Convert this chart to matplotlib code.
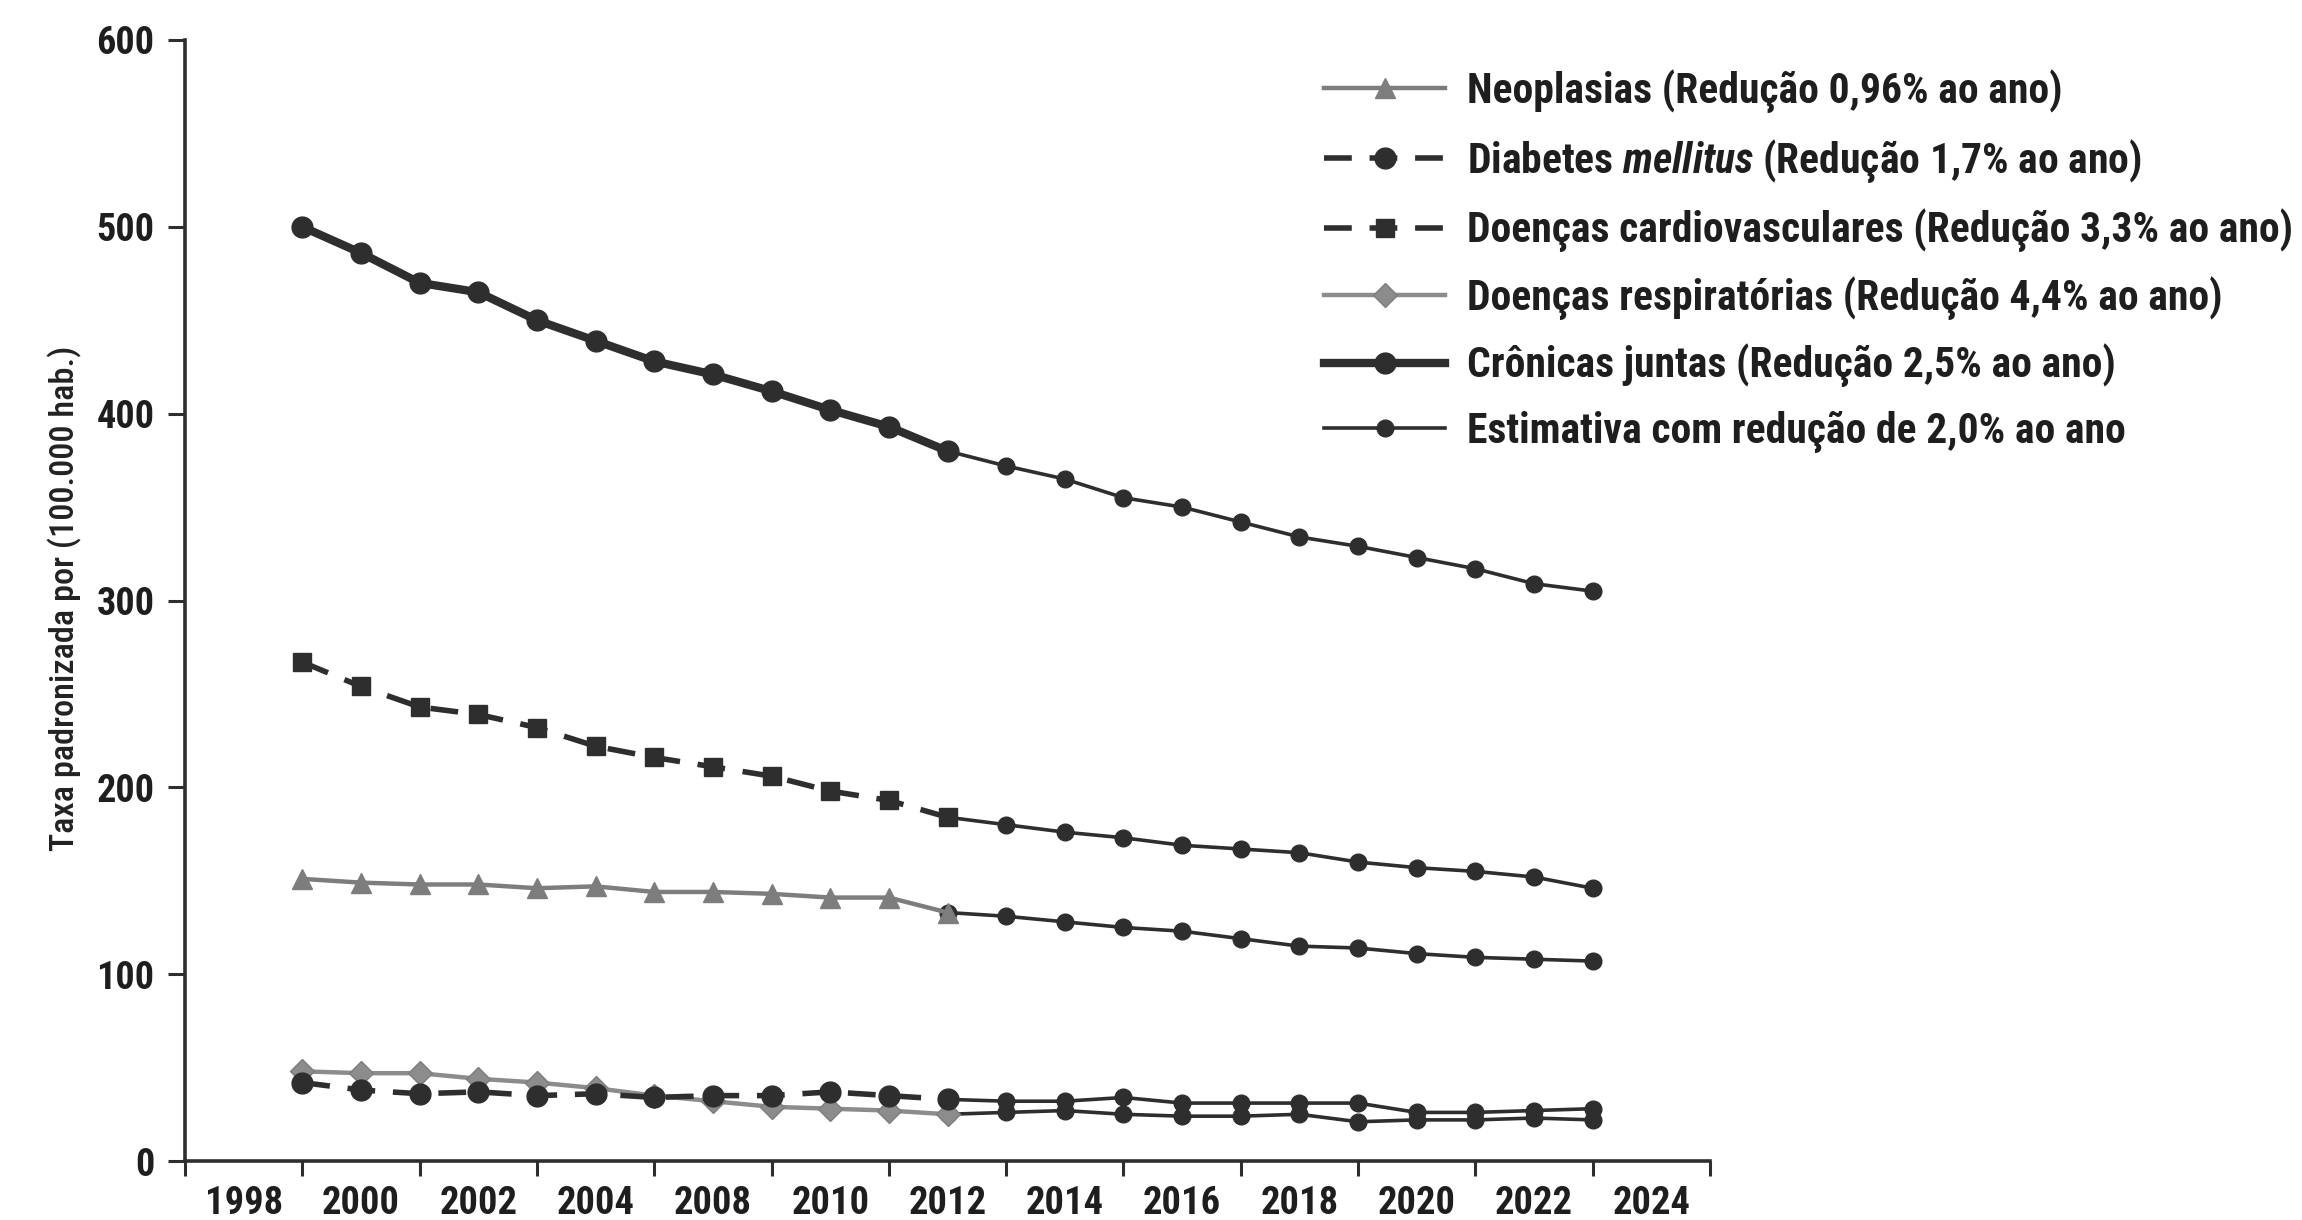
import matplotlib
matplotlib.use("Agg")
import matplotlib.pyplot as plt
from matplotlib import font_manager as fm
from matplotlib.ticker import FixedLocator, NullFormatter

# ---- data ----
x_labels = ['1998', '2000', '2002', '2004', '2008', '2010', '2012',
            '2014', '2016', '2018', '2020', '2022', '2024']
obs_idx = list(range(0, 12))
est_idx = list(range(11, 23))

neoplasias = [151, 149, 148, 148, 146, 147, 144, 144, 143, 141, 141, 133]
diabetes = [42, 38, 36, 37, 35, 36, 34, 35, 35, 37, 35, 33]
cardio = [267, 254, 243, 239, 232, 222, 216, 211, 206, 198, 193, 184]
respiratorias = [48, 47, 47, 44, 42, 39, 35, 32, 29, 28, 27, 25]
cronicas = [500, 486, 470, 465, 450, 439, 428, 421, 412, 402, 393, 380]

cronicas_est = [380, 372, 365, 355, 350, 342, 334, 329, 323, 317, 309, 305]
cardio_est = [184, 180, 176, 173, 169, 167, 165, 160, 157, 155, 152, 146]
neoplasias_est = [133, 131, 128, 125, 123, 119, 115, 114, 111, 109, 108, 107]
diabetes_est = [33, 32, 32, 34, 31, 31, 31, 31, 26, 26, 27, 28]
respiratorias_est = [25, 26, 27, 25, 24, 24, 25, 21, 22, 22, 23, 22]

y_ticks = [0, 100, 200, 300, 400, 500, 600]
y_label = 'Taxa padronizada por (100.000 hab.)'

# ---- font: prefer a condensed sans ----
def pick_font():
    entries = fm.fontManager.ttflist
    names = {f.name for f in entries}
    for p in ['Liberation Sans Narrow', 'Roboto Condensed', 'Open Sans Condensed',
              'Noto Sans Condensed', 'DejaVu Sans Condensed', 'Arial Narrow']:
        if p in names:
            return p, 'normal'
    best = None
    for f in entries:
        st = str(f.stretch)
        if st in ('condensed', 'semi-condensed'):
            if best is None or f.name in ('DejaVu Sans', 'Noto Sans', 'Roboto', 'Open Sans'):
                best = (f.name, st)
    if best:
        return best
    return 'Liberation Sans', 'normal'

FAM, STRETCH = pick_font()
plt.rcParams['font.family'] = [FAM, 'DejaVu Sans']
plt.rcParams['font.stretch'] = STRETCH
plt.rcParams['font.weight'] = 'bold'
st_tag = '' if STRETCH == 'normal' else ':' + STRETCH.replace('-', '')
plt.rcParams['mathtext.fontset'] = 'custom'
plt.rcParams['mathtext.it'] = f'{FAM}:italic:bold{st_tag}'
plt.rcParams['mathtext.rm'] = f'{FAM}:bold{st_tag}'
plt.rcParams['mathtext.bf'] = f'{FAM}:bold{st_tag}'

labels = ['Neoplasias (Redução 0,96% ao ano)',
          'Diabetes $\\it{mellitus}$ (Redução 1,7% ao ano)',
          'Doenças cardiovasculares (Redução 3,3% ao ano)',
          'Doenças respiratórias (Redução 4,4% ao ano)',
          'Crônicas juntas (Redução 2,5% ao ano)',
          'Estimativa com redução de 2,0% ao ano']

DARK = '#2e2e2e'
GRAY = '#7d7d7d'
LGRAY = '#8c8c8c'

W, H = 2302, 1220
fig = plt.figure(figsize=(W / 100, H / 100), dpi=100)
renderer = fig.canvas.get_renderer()


def measure(s, size, weight='bold'):
    t = fig.text(0, 0, s, fontsize=size, fontweight=weight)
    bb = t.get_window_extent(renderer=renderer)
    t.remove()
    return bb.width, bb.height


def fit(s, target_w, weight='bold'):
    w, _ = measure(s, 20, weight)
    return 20 * target_w / w


fs_leg = min(fit('Doenças cardiovasculares (Redução 3,3% ao ano)', 826), 34)
fs_xt = min(fit('2000', 78), 32)
fs_yt = min(fit('600', 58), 32)
fs_yl = min(fit(y_label, 505, 'medium'), 30)

ax = fig.add_axes([185 / W, 1 - 1161 / H, (1710 - 185) / W, (1161 - 40) / H])

DASH = (0, (5, 3.2))
est_handle = None
for s in [cronicas_est, cardio_est, neoplasias_est, diabetes_est, respiratorias_est]:
    h, = ax.plot(est_idx, s, color=DARK, lw=2.6, marker='o', ms=12,
                 mfc=DARK, mec=DARK, zorder=3)
    est_handle = h

h_neo, = ax.plot(obs_idx, neoplasias, color=GRAY, lw=3.2, marker='^', ms=14,
                 mfc=GRAY, mec=GRAY, zorder=4)
h_resp, = ax.plot(obs_idx, respiratorias, color=LGRAY, lw=3.2, marker='D', ms=12,
                  mfc=LGRAY, mec=GRAY, zorder=4)
h_diab, = ax.plot(obs_idx, diabetes, color=DARK, lw=4, ls=DASH, marker='o',
                  ms=15, mfc=DARK, mec=DARK, zorder=5)
h_card, = ax.plot(obs_idx, cardio, color=DARK, lw=4, ls=DASH, marker='s',
                  ms=13, mfc=DARK, mec=DARK, zorder=5)
h_cron, = ax.plot(obs_idx, cronicas, color=DARK, lw=6, marker='o', ms=15,
                  mfc=DARK, mec=DARK, zorder=5)

ax.set_xlim(-2, 24)
ax.set_ylim(0, 600)
ax.set_yticks(y_ticks)
ax.xaxis.set_major_locator(FixedLocator(list(range(-2, 25, 2))))
ax.xaxis.set_major_formatter(NullFormatter())
ax.xaxis.set_minor_locator(FixedLocator(list(range(-1, 24, 2))))
ax.set_xticklabels(x_labels, minor=True)
ax.tick_params(axis='x', which='minor', length=0, pad=17, labelsize=fs_xt)
ax.tick_params(axis='x', which='major', length=11, width=2.2, direction='out', color=DARK)
ax.tick_params(axis='y', length=12, width=2.2, direction='out', labelsize=fs_yt,
               pad=10, color=DARK)

for sp in ['top', 'right']:
    ax.spines[sp].set_visible(False)
for sp in ['left', 'bottom']:
    ax.spines[sp].set_linewidth(2.6)
    ax.spines[sp].set_color(DARK)

fig.text(65 / W, 1 - 598 / H, y_label, rotation=90, ha='center', va='center',
         fontsize=fs_yl, fontweight='medium', color='#222222')

# legend geometry (pixels)
fs_px = fs_leg * 100 / 72
_, th = measure('Neoplasias (Redução 0,96% ao ano)', fs_leg)
row_pitch = 67.5
lspace = max((row_pitch - max(th, 0.7 * fs_px)) / fs_px, 0.1)
hlen = 121 / fs_px
htpad = 22 / fs_px
top_px = 91 - th / 2

leg = fig.legend([h_neo, h_diab, h_card, h_resp, h_cron, est_handle], labels,
                 loc='upper left', bbox_to_anchor=(1324 / W, 1 - top_px / H),
                 frameon=False, fontsize=fs_leg, handlelength=hlen,
                 handletextpad=htpad, labelspacing=lspace, borderpad=0,
                 borderaxespad=0, numpoints=1)
for t in leg.get_texts():
    t.set_color('#1e1e1e')
for t in ax.get_xticklabels(minor=True) + ax.get_yticklabels():
    t.set_color('#1e1e1e')

fig.savefig('out.png', dpi=100, facecolor='white')
